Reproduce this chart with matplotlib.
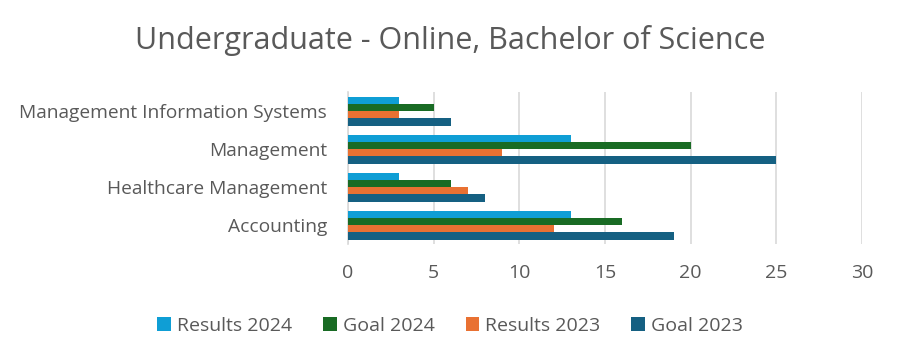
import numpy as np
import matplotlib.pyplot as plt

# Data (categories listed bottom to top)
categories = ['Accounting', 'Healthcare Management', 'Management', 'Management Information Systems']
results_2024 = [13, 3, 13, 3]
goal_2024 = [16, 6, 20, 5]
results_2023 = [12, 7, 9, 3]
goal_2023 = [19, 8, 25, 6]

plt.rcParams['font.family'] = ['Open Sans', 'DejaVu Sans']
text_color = '#595959'

fig = plt.figure(figsize=(9, 3.6), dpi=100)
ax = fig.add_axes([0.3867, 0.322, 0.571, 0.422])

y = np.arange(len(categories))
h = 0.19
series = [
    (goal_2023, 'Goal 2023', '#156082', -1.5),
    (results_2023, 'Results 2023', '#E97132', -0.5),
    (goal_2024, 'Goal 2024', '#196B24', 0.5),
    (results_2024, 'Results 2024', '#0F9ED5', 1.5),
]
bars = {}
for vals, label, color, off in series:
    bars[label] = ax.barh(y + off * h, vals, height=h, color=color, label=label, zorder=3)

ax.set_xlim(0, 30)
ax.set_ylim(-0.5, len(categories) - 0.5)
ax.set_xticks(range(0, 31, 5))
ax.set_yticks(y)
ax.set_yticklabels(categories)
ax.grid(axis='x', color='#D9D9D9', linewidth=1.2, zorder=0)
for s in ['top', 'right', 'bottom']:
    ax.spines[s].set_visible(False)
ax.spines['left'].set_color('#D9D9D9')
ax.spines['left'].set_linewidth(1.2)
ax.tick_params(axis='both', length=0, labelsize=14, labelcolor=text_color)
ax.tick_params(axis='x', pad=14)
ax.tick_params(axis='y', labelsize=13.8, pad=15)

fig.suptitle('Undergraduate - Online, Bachelor of Science', x=0.5, y=0.93,
             fontsize=22, color=text_color)

order = ['Results 2024', 'Goal 2024', 'Results 2023', 'Goal 2023']
leg = fig.legend([bars[k] for k in order], order, loc='center', bbox_to_anchor=(0.5, 0.095),
                 ncol=4, frameon=False, fontsize=14, handlelength=0.7, handleheight=0.7,
                 handletextpad=0.3, columnspacing=1.6)
for t in leg.get_texts():
    t.set_color(text_color)

fig.savefig('out.png', dpi=100)
